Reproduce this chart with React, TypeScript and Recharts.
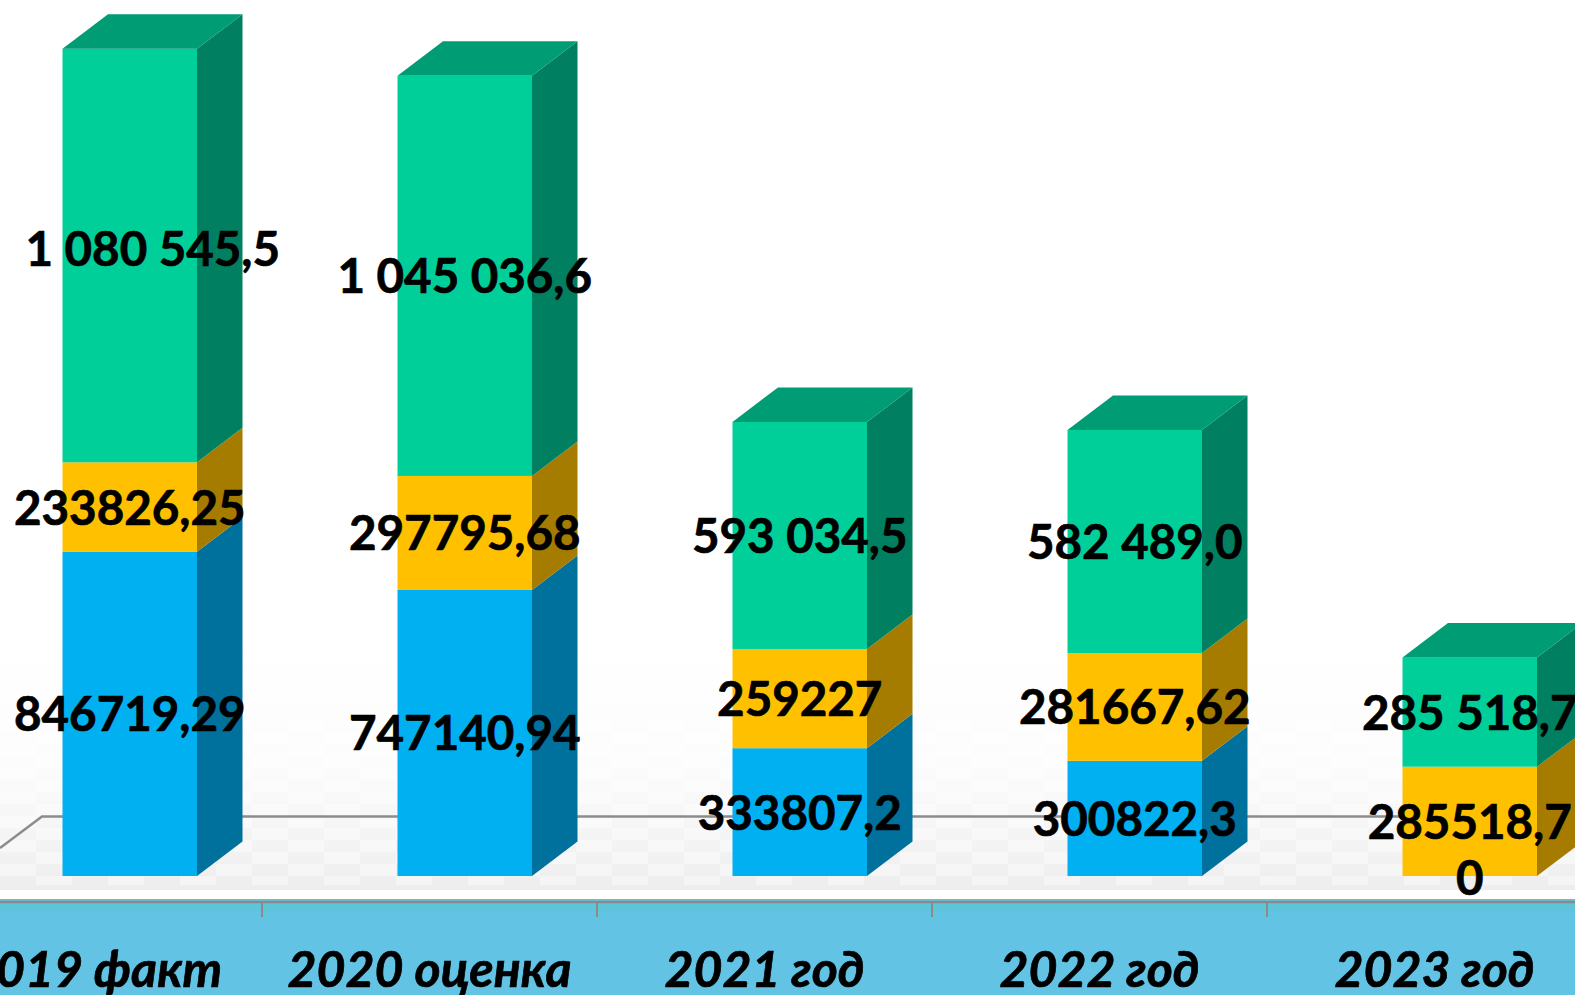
import { Bar, BarChart, LabelList, XAxis, YAxis } from "recharts";

const categories = ["2019 факт", "2020 оценка", "2021 год", "2022 год", "2023 год"];

const blueValues = [846719.29, 747140.94, 333807.2, 300822.3, 0];
const yellowValues = [233826.25, 297795.68, 259227, 281667.62, 285518.7];
const greenValues = [1080545.5, 1045036.6, 593034.5, 582489.0, 285518.7];

const blueLabels = ["846719,29", "747140,94", "333807,2", "300822,3", ""];
const yellowLabels = ["233826,25", "297795,68", "259227", "281667,62", "285518,7|0"];
const greenLabels = ["1 080 545,5", "1 045 036,6", "593 034,5", "582 489,0", "285 518,7"];

const chartData = categories.map((name, i) => ({
  name,
  blue: blueValues[i],
  yellow: yellowValues[i],
  green: greenValues[i],
}));

const BAND = 335;
const SHIFT = 35.5; // bars sit right of the band centre, the depth takes the rest
const DEPTH_X = 45.5;
const DEPTH_Y = 34.5;
const FONT = "Lato, sans-serif";

function Box3D({ x, y, width, height, front, side, top }: any) {
  if (!height || height <= 0) return null;
  const left = x + SHIFT;
  const right = left + width;
  return (
    <g>
      <rect x={left} y={y} width={width} height={height} fill={front} />
      <polygon
        points={`${right},${y} ${right + DEPTH_X},${y - DEPTH_Y} ${right + DEPTH_X},${y + height - DEPTH_Y} ${right},${y + height}`}
        fill={side}
      />
      {top && (
        <polygon
          points={`${left},${y} ${left + DEPTH_X},${y - DEPTH_Y} ${right + DEPTH_X},${y - DEPTH_Y} ${right},${y}`}
          fill={top}
        />
      )}
    </g>
  );
}

// the first green label was dragged by hand in the original
function ValueLabel({ x, y, width, height, index, labels, firstDx = 0, firstDy = 0 }: any) {
  const text = labels[index];
  if (!text) return null;
  const lines = text.split("|");
  const cx = x + SHIFT + width / 2 + (index === 0 ? firstDx : 0);
  const cy = y + height / 2 + (index === 0 ? firstDy : 0);
  return (
    <text
      x={cx}
      y={cy + 17.5}
      textAnchor="middle"
      fontFamily={FONT}
      fontWeight={700}
      fontSize={47.5}
      fill="#000"
      stroke="#000"
      strokeWidth={0.7}
    >
      {lines.map((line: string, i: number) => (
        <tspan key={i} x={cx} dy={i === 0 ? 0 : 56}>
          {line}
        </tspan>
      ))}
    </text>
  );
}

function CategoryTick({ x, y, payload }: any) {
  return (
    <g>
      <line x1={x + BAND / 2} x2={x + BAND / 2} y1={y} y2={y + 15} stroke="#8a8a8a" strokeWidth={2} />
      <text
        x={x}
        y={987}
        textAnchor="middle"
        fontFamily={FONT}
        fontWeight={700}
        fontStyle="italic"
        fontSize={50}
        fill="#000"
        stroke="#000"
        strokeWidth={0.7}
      >
        {payload.value}
      </text>
    </g>
  );
}

export default function App() {
  return (
    <div
      style={{
        position: "absolute",
        left: 0,
        top: 0,
        width: 1575,
        height: 995,
        overflow: "hidden",
        background: "#fff",
      }}
    >
      <div
        style={{
          position: "absolute",
          left: 0,
          top: 640,
          width: 1575,
          height: 250,
          background: "linear-gradient(#ffffff 0%, #fcfcfc 50%, #f4f4f4 80%, #ededed 100%)",
        }}
      />
      <div style={{ position: "absolute", left: 0, top: 899, width: 1575, height: 96, background: "#62C3E5" }} />
      <div style={{ position: "absolute", left: 0, top: 899, width: 1575, height: 12, background: "#5FC4D9" }} />
      <svg style={{ position: "absolute", left: 0, top: 0 }} width={1575} height={995}>
        <defs>
          <pattern id="floorPatches" patternUnits="userSpaceOnUse" width={72} height={24} y={720}>
            <rect x={0} y={0} width={36} height={12} fill="#fff" />
            <rect x={36} y={12} width={36} height={12} fill="#fff" />
          </pattern>
        </defs>
        <rect x={0} y={720} width={1575} height={165} fill="url(#floorPatches)" opacity={0.4} />
        <polyline points="0,848 42,816.5 1575,816.5" fill="none" stroke="#8c8c8c" strokeWidth={2.5} />
      </svg>
      <div style={{ position: "absolute", left: -73, top: 0 }}>
        <BarChart
          width={BAND * 5}
          height={995}
          data={chartData}
          margin={{ top: 0, right: 0, bottom: 0, left: 0 }}
          barSize={134.5}
        >
          <XAxis
            dataKey="name"
            height={93}
            interval={0}
            tickLine={false}
            tickSize={0}
            tickMargin={0}
            axisLine={{ stroke: "#8a8a8a", strokeWidth: 2.5 }}
            tick={<CategoryTick />}
          />
          <YAxis hide domain={[-67912, 2288112]} />
          <Bar
            dataKey="blue"
            stackId="a"
            isAnimationActive={false}
            shape={(p: any) => <Box3D {...p} front="#00B0F0" side="#00709C" />}
          >
            <LabelList content={(p: any) => <ValueLabel {...p} labels={blueLabels} />} />
          </Bar>
          <Bar
            dataKey="yellow"
            stackId="a"
            isAnimationActive={false}
            shape={(p: any) => <Box3D {...p} front="#FFC000" side="#A67C00" />}
          >
            <LabelList content={(p: any) => <ValueLabel {...p} labels={yellowLabels} />} />
          </Bar>
          <Bar
            dataKey="green"
            stackId="a"
            isAnimationActive={false}
            shape={(p: any) => <Box3D {...p} front="#00CF9A" side="#008060" top="#009C74" />}
          >
            <LabelList content={(p: any) => <ValueLabel {...p} labels={greenLabels} firstDx={23} firstDy={-7} />} />
          </Bar>
        </BarChart>
      </div>
    </div>
  );
}
